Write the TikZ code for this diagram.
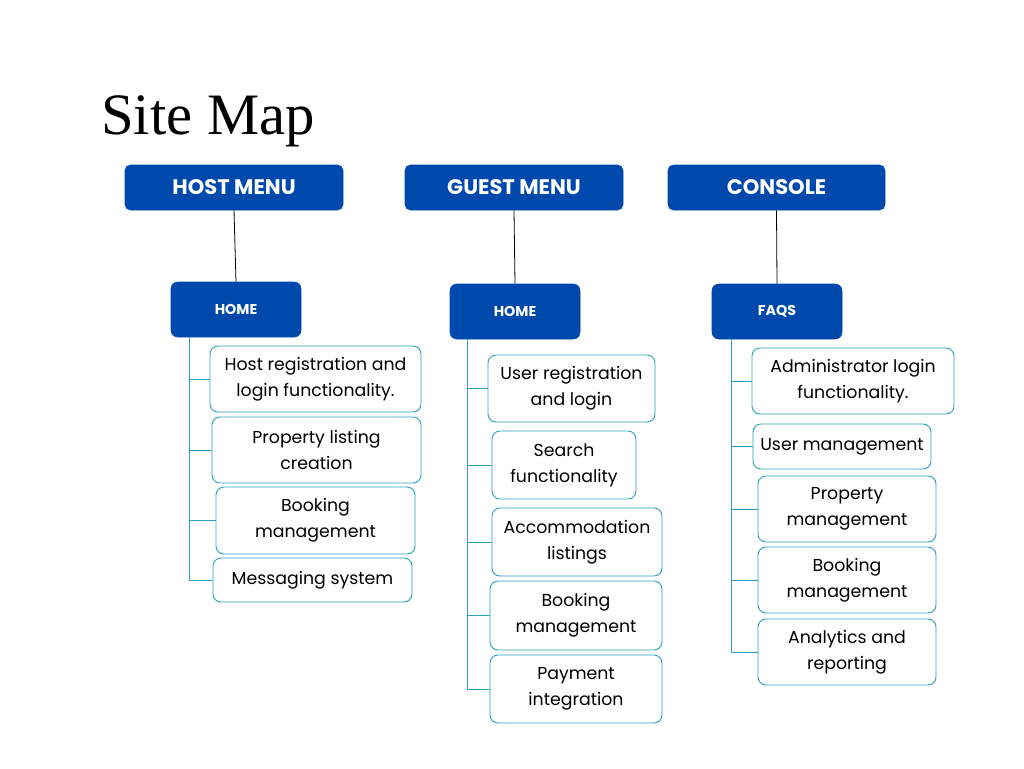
\documentclass[tikz,border=0pt]{standalone}
\usepackage{fontspec}
\setmainfont{Poppins}
\newfontfamily\titlefont{Liberation Serif}
\definecolor{navy}{HTML}{0049AC}
\definecolor{teal}{HTML}{2AA3BE}
\tikzset{
  menubox/.style={fill=navy, draw=navy, rounded corners=4pt, text=white, font=\fontsize{15.8}{18}\selectfont\bfseries, inner sep=0pt},
  homebox/.style={fill=navy, draw=navy, rounded corners=5pt, text=white, font=\fontsize{10.7}{12}\selectfont\bfseries, inner sep=0pt},
  item/.style={draw=teal, line width=0.7pt, rounded corners=6pt, fill=white, font=\fontsize{13}{19.5}\selectfont, align=center, inner sep=0pt},
  link/.style={draw=black, line width=0.6pt},
  branch/.style={draw=teal, line width=0.75pt},
}
\begin{document}
\begin{tikzpicture}[x=0.75pt,y=-0.75pt]
\useasboundingbox (0,0) rectangle (1024,768);
\fill[white] (0,0) rectangle (1024,768);

\node[anchor=base west, font=\titlefont\fontsize{44}{50}\selectfont, inner sep=0pt] (title) at (101,134) {Site Map};

% top menus
\node[menubox, minimum width=163.5pt, minimum height=33.75pt] (host) at (234,187.5) {HOST MENU};
\node[menubox, minimum width=163.5pt, minimum height=33.75pt] (guest) at (514,187.5) {GUEST MENU};
\node[menubox, minimum width=162.75pt, minimum height=33.75pt] (console) at (776.5,187.5) {CONSOLE};

% second level
\node[homebox, minimum width=97.5pt, minimum height=41.25pt] (hhome) at (236,309.5) {HOME};
\node[homebox, minimum width=97.5pt, minimum height=41.25pt] (ghome) at (515,311.5) {HOME};
\node[homebox, minimum width=97.5pt, minimum height=41.25pt] (faqs) at (777,311.5) {FAQS};

\draw[link] (host.south) -- (hhome.north);
\draw[link] (guest.south) -- (ghome.north);
\draw[link] (console.south) -- (faqs.north);

% host children
\node[item, minimum width=158.25pt, minimum height=49.5pt] (h1) at (315.5,379) {Host registration and\\login functionality.};
\node[item, minimum width=156.75pt, minimum height=49.5pt] (h2) at (316.5,450) {Property listing\\creation};
\node[item, minimum width=149.25pt, minimum height=50.25pt] (h3) at (315.5,520.5) {Booking\\management};
\node[item, minimum width=149.25pt, minimum height=33pt] (h4) at (312.5,580) {Messaging system};

% guest children
\node[item, minimum width=125.25pt, minimum height=50.25pt] (g1) at (571.5,388.5) {User registration\\and login};
\node[item, minimum width=108pt, minimum height=51pt] (g2) at (564,465) {Search\\functionality};
\node[item, minimum width=127.5pt, minimum height=51pt] (g3) at (577,542) {Accommodation\\listings};
\node[item, minimum width=129pt, minimum height=51.75pt] (g4) at (576,615.5) {Booking\\management};
\node[item, minimum width=129pt, minimum height=51pt] (g5) at (576,689) {Payment\\integration};

% console children
\node[item, minimum width=151.5pt, minimum height=49.5pt] (c1) at (853,381) {Administrator login\\functionality.};
\node[item, minimum width=133.5pt, minimum height=33.75pt] (c2) at (842,446.5) {User management};
\node[item, minimum width=133.5pt, minimum height=49.5pt] (c3) at (847,509) {Property\\management};
\node[item, minimum width=133.5pt, minimum height=49.5pt] (c4) at (847,580) {Booking\\management};
\node[item, minimum width=133.5pt, minimum height=49.5pt] (c5) at (847,652) {Analytics and\\reporting};

% spines
\coordinate (hs) at (189,337);
\coordinate (gs) at (467,339);
\coordinate (cs) at (731,339);

\draw[branch] (hs) -- (h4.west -| hs) -- (h4.west);
\draw[branch] (h1.west -| hs) -- (h1.west);
\draw[branch] (h2.west -| hs) -- (h2.west);
\draw[branch] (h3.west -| hs) -- (h3.west);

\draw[branch] (gs) -- (g5.west -| gs) -- (g5.west);
\draw[branch] (g1.west -| gs) -- (g1.west);
\draw[branch] (g2.west -| gs) -- (g2.west);
\draw[branch] (g3.west -| gs) -- (g3.west);
\draw[branch] (g4.west -| gs) -- (g4.west);

\draw[branch] (cs) -- (c5.west -| cs) -- (c5.west);
\draw[branch] (c1.west -| cs) -- (c1.west);
\draw[branch] (c2.west -| cs) -- (c2.west);
\draw[branch] (c3.west -| cs) -- (c3.west);
\draw[branch] (c4.west -| cs) -- (c4.west);
\end{tikzpicture}
\end{document}
